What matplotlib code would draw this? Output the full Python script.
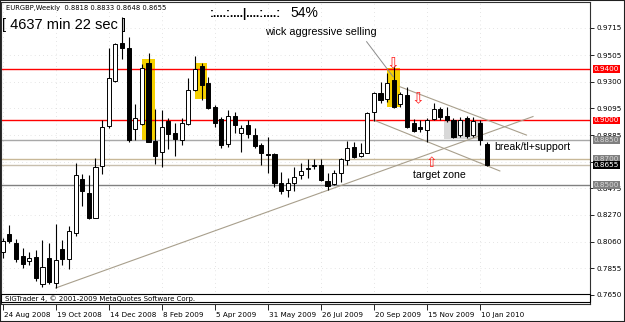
import matplotlib
matplotlib.use("Agg")
import matplotlib.pyplot as plt
import matplotlib.transforms as mtransforms
from matplotlib.patches import Rectangle

# weekly EURGBP candles, 24 Aug 2008 .. 17 Jan 2010
opens = [0.7982, 0.8121, 0.8052, 0.7951, 0.7913, 0.7946, 0.7735, 0.7936, 0.7745, 0.8005,
         0.7930, 0.8129, 0.8547, 0.8439, 0.8248, 0.8647, 0.8957, 0.9307, 0.9599, 0.9560,
         0.8934, 0.8972, 0.9444, 0.8843, 0.8758, 0.8998, 0.8905, 0.8849, 0.8972, 0.9235,
         0.9421, 0.9289, 0.9106, 0.9011, 0.8818, 0.9034, 0.8903, 0.8965, 0.8887, 0.8810,
         0.8740, 0.8740, 0.8516, 0.8462, 0.8518, 0.8578, 0.8625, 0.8655, 0.8655, 0.8534,
         0.8508, 0.8593, 0.8694, 0.8795, 0.8727, 0.8750, 0.9067, 0.9211, 0.9164, 0.9313,
         0.9127, 0.9197, 0.8977, 0.8946, 0.8926, 0.9008, 0.9086, 0.9034, 0.9003, 0.8887,
         0.9016, 0.8887, 0.8980, 0.8818]
highs = [0.8090, 0.8191, 0.8083, 0.8013, 0.7982, 0.7997, 0.8075, 0.8052, 0.8199, 0.8075,
         0.8183, 0.8671, 0.8585, 0.8578, 0.8712, 0.9003, 0.9560, 0.9601, 0.9800, 0.9645,
         0.9127, 0.9437, 0.9524, 0.9088, 0.9081, 0.9019, 0.8980, 0.9019, 0.9328, 0.9498,
         0.9444, 0.9338, 0.9119, 0.9026, 0.9081, 0.9067, 0.8965, 0.9003, 0.8942, 0.8828,
         0.8872, 0.8748, 0.8603, 0.8555, 0.8640, 0.8671, 0.8701, 0.8701, 0.8701, 0.8593,
         0.8616, 0.8709, 0.8843, 0.8835, 0.8825, 0.9067, 0.9222, 0.9300, 0.9365, 0.9421,
         0.9222, 0.9261, 0.9008, 0.9003, 0.9016, 0.9132, 0.9106, 0.9106, 0.9016, 0.9024,
         0.9034, 0.9029, 0.9003, 0.8833]
lows = [0.7936, 0.8052, 0.7905, 0.7858, 0.7882, 0.7758, 0.7712, 0.7735, 0.7700, 0.7882,
        0.7850, 0.8106, 0.8338, 0.8240, 0.8245, 0.8585, 0.8942, 0.9300, 0.9475, 0.8833,
        0.8849, 0.8965, 0.8830, 0.8663, 0.8640, 0.8779, 0.8725, 0.8810, 0.8965, 0.9230,
        0.9158, 0.9088, 0.8952, 0.8787, 0.8797, 0.8903, 0.8758, 0.8864, 0.8787, 0.8655,
        0.8593, 0.8487, 0.8431, 0.8408, 0.8456, 0.8547, 0.8555, 0.8624, 0.8534, 0.8462,
        0.8500, 0.8526, 0.8655, 0.8709, 0.8719, 0.8746, 0.8998, 0.9132, 0.9145, 0.9093,
        0.9106, 0.8939, 0.8913, 0.8913, 0.8835, 0.9003, 0.9003, 0.8990, 0.8862, 0.8874,
        0.8862, 0.8874, 0.8810, 0.8648]
closes = [0.8067, 0.8070, 0.7928, 0.7889, 0.7938, 0.7781, 0.7868, 0.7752, 0.7920, 0.7928,
          0.8147, 0.8578, 0.8456, 0.8245, 0.8640, 0.8949, 0.9328, 0.9591, 0.9560, 0.8849,
          0.9019, 0.9406, 0.8833, 0.8725, 0.8952, 0.8895, 0.8856, 0.8980, 0.9235, 0.9398,
          0.9274, 0.9096, 0.8982, 0.8810, 0.9034, 0.8965, 0.8942, 0.8895, 0.8802, 0.8748,
          0.8732, 0.8518, 0.8456, 0.8516, 0.8565, 0.8609, 0.8629, 0.8647, 0.8539, 0.8493,
          0.8593, 0.8701, 0.8787, 0.8719, 0.8750, 0.9060, 0.9214, 0.9158, 0.9287, 0.9106,
          0.9204, 0.8947, 0.8920, 0.8931, 0.9003, 0.9086, 0.9024, 0.9003, 0.8874, 0.9003,
          0.8879, 0.8998, 0.8849, 0.8655]

date_ticks = [0, 8, 16, 24, 32, 40, 48, 56, 64, 72]
date_labels = ["24 Aug 2008", "19 Oct 2008", "14 Dec 2008", "8 Feb 2009", "5 Apr 2009",
               "31 May 2009", "26 Jul 2009", "20 Sep 2009", "15 Nov 2009", "10 Jan 2010"]
price_ticks = [0.9715, 0.9505, 0.9300, 0.9095, 0.8885, 0.8680, 0.8475,
               0.8270, 0.8060, 0.7855, 0.7650]
hidden_ticks = [0.8680]  # sits under the 0.8700 / 0.8655 price tags

# horizontal levels: price, line colour, label face, label text colour
levels = [0.9400, 0.9000, 0.8850, 0.8700, 0.8655, 0.8500]
level_line = ["#ff0000", "#ff0000", "#a8a8a8", "#c8b898", "#c8bfae", "#808080"]
level_face = ["#ff0000", "#ff0000", "#808080", "#808080", "#000000", "#808080"]
level_text = ["#ffffff", "#ffffff", "#d8d8d8", "#d8d8d8", "#ffffff", "#d8d8d8"]

# highlight boxes (bar index from/to, price from/to)
yellow_boxes = [(21.0, 23.0, 0.8841, 0.9473), (28.95, 30.75, 0.9163, 0.9442),
                (58.0, 59.9, 0.9102, 0.9403)]
grey_box = (66.6, 72.5, 0.8854, 0.9003)

# trendlines (bar index, price)
trend_lines = [((8.0, 0.7704), (80.0, 0.9030)),
               ((59.9, 0.9261), (79.0, 0.8887)),
               ((56.0, 0.9002), (75.0, 0.8609))]
pointer_line = ((54.9, 0.9609), (58.9, 0.9338))

down_arrows = [(58.9, 0.9440), (62.6, 0.9168)]
up_arrows = [(64.7, 0.8672)]

W, H = 625, 322
fig = plt.figure(figsize=(W / 100, H / 100), dpi=100)
fig.patch.set_facecolor("white")
L, R, T, B = 1.5, 590, 2, 304
ax = fig.add_axes([L / W, (H - B) / H, (R - L) / W, (B - T) / H])
ax.set_facecolor("white")
ax.set_xlim(-0.18, 88.6)
ax.set_ylim(0.7580, 0.9916)

# faint dotted grid
for p in price_ticks:
    ax.axhline(p, color="#cccccc", lw=0.5, ls=(0, (1, 5)), zorder=0)
for t in date_ticks:
    ax.axvline(t, color="#cccccc", lw=0.5, ls=(0, (1, 5)), zorder=0)

for x0, x1, y0, y1 in yellow_boxes:
    ax.add_patch(Rectangle((x0, y0), x1 - x0, y1 - y0, fc="#f5d000", ec="none", zorder=1))
gx0, gx1, gy0, gy1 = grey_box
ax.add_patch(Rectangle((gx0, gy0), gx1 - gx0, gy1 - gy0, fc="#d8d8d8", ec="none", zorder=1))

for p, c in zip(levels, level_line):
    ax.axhline(p, color=c, lw=1.0, zorder=2)

for (x0, y0), (x1, y1) in trend_lines:
    ax.plot([x0, x1], [y0, y1], color="#a89f8c", lw=0.8, zorder=2)
ax.plot([pointer_line[0][0], pointer_line[1][0]], [pointer_line[0][1], pointer_line[1][1]],
        color="#8c8c8c", lw=0.7, zorder=2)

# candles
idx = list(range(len(opens)))
ax.vlines(idx, lows, highs, color="#000000", lw=0.8, zorder=3)
for i, (o, c) in enumerate(zip(opens, closes)):
    up = c >= o
    ax.bar(i, abs(c - o), bottom=min(o, c), width=0.62,
           color="white" if up else "black", edgecolor="black", lw=0.7, zorder=4)

for x, y in down_arrows:
    ax.text(x, y, "\u21e9", color="#ff2020", fontsize=11, family="DejaVu Sans",
            ha="center", va="center", zorder=5)
for x, y in up_arrows:
    ax.text(x, y, "\u21e7", color="#ff2020", fontsize=10, family="DejaVu Sans",
            ha="center", va="center", zorder=5)

txt = dict(family="Liberation Sans", color="black", zorder=6)
ax.text(39.6, 0.9684, "wick aggressive selling", fontsize=7.8, ha="left", va="center", **txt)
ax.text(74.1, 0.8798, "break/tl+support", fontsize=7.6, ha="left", va="center", **txt)
ax.text(61.9, 0.8580, "target zone", fontsize=7.6, ha="left", va="center", **txt)

# header texts
fig.text(6 / W, 1 - 8 / H, "EURGBP,Weekly  0.8818 0.8833 0.8648 0.8655",
         fontsize=4.9, family="DejaVu Sans", va="center", ha="left")
fig.text(2 / W, 1 - 25 / H, "[ 4637 min 22 sec ]", fontsize=10.5,
         family="Liberation Sans", va="center", ha="left")
fig.text(210 / W, 1 - 14 / H, ":....:....|....:....:", fontsize=8.5, fontweight="bold",
         family="Liberation Sans", va="center", ha="left")
fig.text(290 / W, 1 - 13 / H, "54%", fontsize=10, family="Liberation Sans",
         va="center", ha="left")

# copyright strip
ax.add_patch(Rectangle((0, 0.006), 1, 0.027, transform=ax.transAxes, fc="white",
                       ec="black", lw=0.8, zorder=7, clip_on=False))
ax.text(0.006, 0.019, "SIGTrader 4, \u00a9 2001-2009 MetaQuotes Software Corp.",
        transform=ax.transAxes, fontsize=5, family="DejaVu Sans", va="center", zorder=8)

# axes
ax.yaxis.tick_right()
ax.set_yticks(price_ticks)
ax.set_yticklabels(["" if p in hidden_ticks else f"{p:.4f}" for p in price_ticks],
                   fontsize=5.2, family="DejaVu Sans")
ax.tick_params(axis="y", length=3, width=0.6, pad=2)
ax.set_xticks(date_ticks)
ax.set_xticklabels(date_labels, fontsize=5.2, family="DejaVu Sans", ha="left")
ax.tick_params(axis="x", length=4, width=0.6, pad=2)
offset = mtransforms.ScaledTranslation(1 / 100, 0, fig.dpi_scale_trans)
for lab in ax.get_xticklabels():
    lab.set_transform(lab.get_transform() + offset)
for s in ax.spines.values():
    s.set_color("#303030")
    s.set_linewidth(0.8)

ytr = mtransforms.blended_transform_factory(ax.transAxes, ax.transData)
for p, fc, tc in zip(levels, level_face, level_text):
    ax.text(1.0 + 4 / (R - L), p, f"{p:.4f}", transform=ytr, fontsize=5.2,
            family="DejaVu Sans", color=tc, ha="left", va="center", zorder=9, clip_on=False,
            bbox=dict(boxstyle="square,pad=0.12", fc=fc, ec="none"))

# outer frame
fig.add_artist(Rectangle((0, 0), 1, 1, transform=fig.transFigure, fill=False,
                         ec="#202020", lw=1.5))

fig.savefig("out.png", dpi=100)
